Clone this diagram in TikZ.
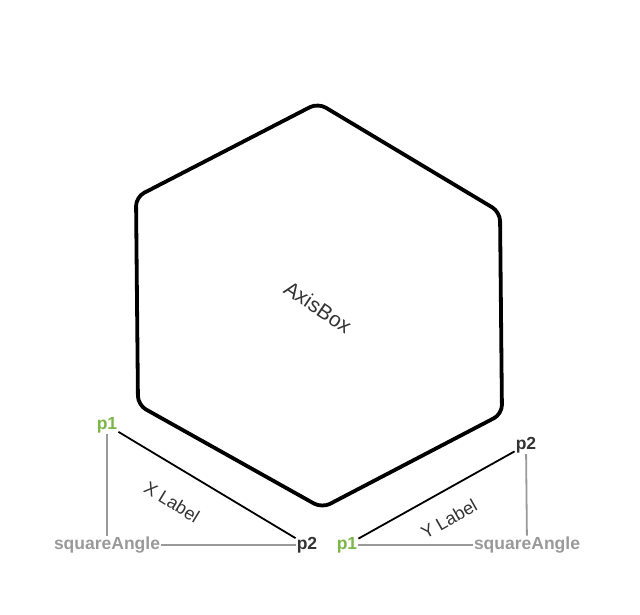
\documentclass[tikz,border=0pt]{standalone}
\usepackage{fontspec}
\setmainfont{Liberation Sans}
\definecolor{pgreen}{HTML}{7AB648}
\definecolor{pgray}{HTML}{999999}
\definecolor{pdark}{HTML}{333333}
\tikzset{
  pt/.style={font=\fontsize{17.5}{19}\selectfont\bfseries, inner sep=1pt},
  pgreenlbl/.style={pt, text=pgreen},
  pdarklbl/.style={pt, text=pdark},
  sqlbl/.style={pt, text=pgray},
  axlbl/.style={font=\fontsize{18}{20}\selectfont, text=pdark, inner sep=0pt},
  axisline/.style={draw=black, line width=1.8pt},
  guideline/.style={draw=pgray, line width=1.8pt},
  hexline/.style={draw=black, line width=3.8pt, rounded corners=9pt, line join=round}
}
\begin{document}
\begin{tikzpicture}[x=1pt,y=-1pt]
\useasboundingbox (0,0) rectangle (640,614);
% hexagon
\coordinate (h1) at (318,103);
\coordinate (h2) at (500,212);
\coordinate (h3) at (502,414);
\coordinate (h4) at (322,508);
\coordinate (h5) at (138,405);
\coordinate (h6) at (136,197);
\draw[hexline] (h1) -- (h2) -- (h3) -- (h4) -- (h5) -- (h6) -- cycle;
\node[axlbl, font=\fontsize{21}{23}\selectfont, rotate=-34] (axisbox) at (318,307) {AxisBox};
% X axis
\node[pgreenlbl] (xp1) at (107,425) {p1};
\node[pdarklbl] (xp2) at (307,545) {p2};
\node[sqlbl] (xsq) at (107,545) {squareAngle};
\draw[axisline] (xp1) -- (xp2);
\draw[guideline] (xp1) -- (xsq);
\draw[guideline] (xsq) -- (xp2);
\node[axlbl, rotate=-31.5] (xlab) at (172,502) {X Label};
% Y axis
\node[pgreenlbl] (yp1) at (347,545) {p1};
\node[pdarklbl] (yp2) at (526,445) {p2};
\node[sqlbl] (ysq) at (527,545) {squareAngle};
\draw[axisline] (yp1) -- (yp2);
\draw[guideline] (yp2) -- (ysq);
\draw[guideline] (yp1) -- (ysq);
\node[axlbl, rotate=29.5] (ylab) at (449,519) {Y Label};
\end{tikzpicture}
\end{document}
